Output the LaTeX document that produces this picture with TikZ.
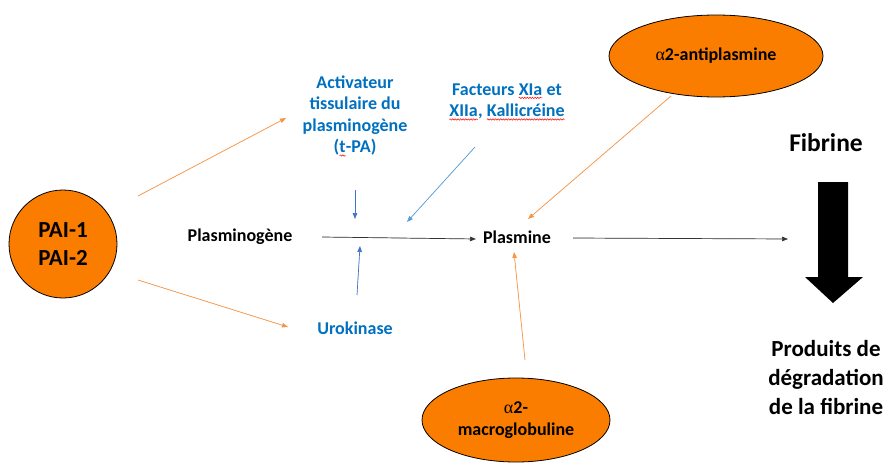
\documentclass[tikz,border=0pt]{standalone}
\usepackage{fontspec}
\setmainfont{Carlito}
\newfontfamily\greekfont{Liberation Serif}
\usetikzlibrary{arrows.meta,shapes.geometric,decorations.pathmorphing}
\definecolor{ofill}{RGB}{250,125,0}
\definecolor{ocol}{RGB}{245,150,70}
\definecolor{txtblue}{RGB}{0,112,192}
\definecolor{dblue}{RGB}{68,114,196}
\definecolor{lblue}{RGB}{91,155,213}
\newcommand\galpha{{\greekfont\mdseries α}}
\newcommand\wavy[1]{\tikz[baseline=(w.base),x=1pt,y=1pt]{\node[inner sep=0pt,outer sep=0pt](w){#1};
  \draw[red, line width=0.5pt, decorate, decoration={snake,amplitude=0.7pt,segment length=2.6pt}] ([yshift=-2.6pt]w.base west) -- ([yshift=-2.6pt]w.base east);}}
\tikzset{
  lbl/.style={font=\fontsize{18}{21.6}\selectfont\bfseries, inner sep=0pt, align=center},
  bluelbl/.style={lbl, text=txtblue},
  bigelli/.style={ellipse, draw=black, line width=0.8pt, fill=ofill, inner sep=0pt},
  arr/.style={-{Triangle[length=6pt,width=4.5pt]}, line width=0.7pt},
  oarr/.style={arr, draw=ocol, fill=ocol},
  barr/.style={arr, draw=dblue, fill=dblue},
  lbarr/.style={arr, draw=lblue, fill=lblue},
  karr/.style={arr, draw=black!80, fill=black!80},
}
\begin{document}
\begin{tikzpicture}[x=1pt,y=-1pt]
\useasboundingbox (0,0) rectangle (888,468);
% shapes
\node[circle, draw=black, line width=0.8pt, fill=ofill, minimum size=108pt, inner sep=0pt,
      font=\fontsize{23}{28}\selectfont\bfseries, align=center] (pai) at (63,244) {PAI-1\\PAI-2};
\node[bigelli, minimum width=214pt, minimum height=82pt, lbl] (anti) at (716,56) {\galpha2-antiplasmine};
\node[bigelli, minimum width=188pt, minimum height=84pt, lbl] (macro) at (516,420) {\galpha2-\\macroglobuline};
% labels
\node[lbl] (plg) at (240,237) {Plasminogène};
\node[lbl] (plm) at (517,237) {Plasmine};
\node[bluelbl] (tpa) at (355,116) {Activateur\\tissulaire du\\plasminogène\\(\wavy{t}-PA)};
\node[bluelbl] (fac) at (507,102) {Facteurs \wavy{XIa} et\\\wavy{XIIa}, \wavy{Kallicréine}};
\node[bluelbl] (uro) at (355,328) {Urokinase};
\node[lbl, font=\fontsize{25.5}{29}\selectfont\bfseries] (fib) at (826,143) {Fibrine};
\node[lbl, font=\fontsize{23}{29}\selectfont\bfseries] (prod) at (826,378) {Produits de\\dégradation\\de la fibrine};
% big arrow
\fill[black] (818,182) -- (848,182) -- (848,277) -- (863,277) -- (833,303) -- (805,277) -- (818,277) -- cycle;
% connector end points
\coordinate (p1) at (138,196);
\coordinate (t1) at (286,118);
\coordinate (p2) at (138,280);
\coordinate (u1) at (288,327);
\coordinate (tpaS) at (355,190);
\coordinate (tpaE) at (355,219);
\coordinate (facS) at (475,147);
\coordinate (facE) at (407,222);
\coordinate (plgE) at (322,237);
\coordinate (plmW) at (476,239);
\coordinate (plmE) at (573,238);
\coordinate (fibW) at (788,239);
\coordinate (uroN) at (357,295);
\coordinate (uroE) at (360,246);
\coordinate (antiS) at (671,96);
\coordinate (antiE) at (528,219);
\coordinate (macS) at (525,360);
\coordinate (macE) at (514,252);
% connectors
\draw[oarr] (p1) -- (t1);
\draw[oarr] (p2) -- (u1);
\draw[barr] (tpaS) -- (tpaE);
\draw[lbarr] (facS) -- (facE);
\draw[karr] (plgE) -- (plmW);
\draw[karr] (plmE) -- (fibW);
\draw[barr] (uroN) -- (uroE);
\draw[oarr] (antiS) -- (antiE);
\draw[oarr] (macS) -- (macE);
\end{tikzpicture}
\end{document}
